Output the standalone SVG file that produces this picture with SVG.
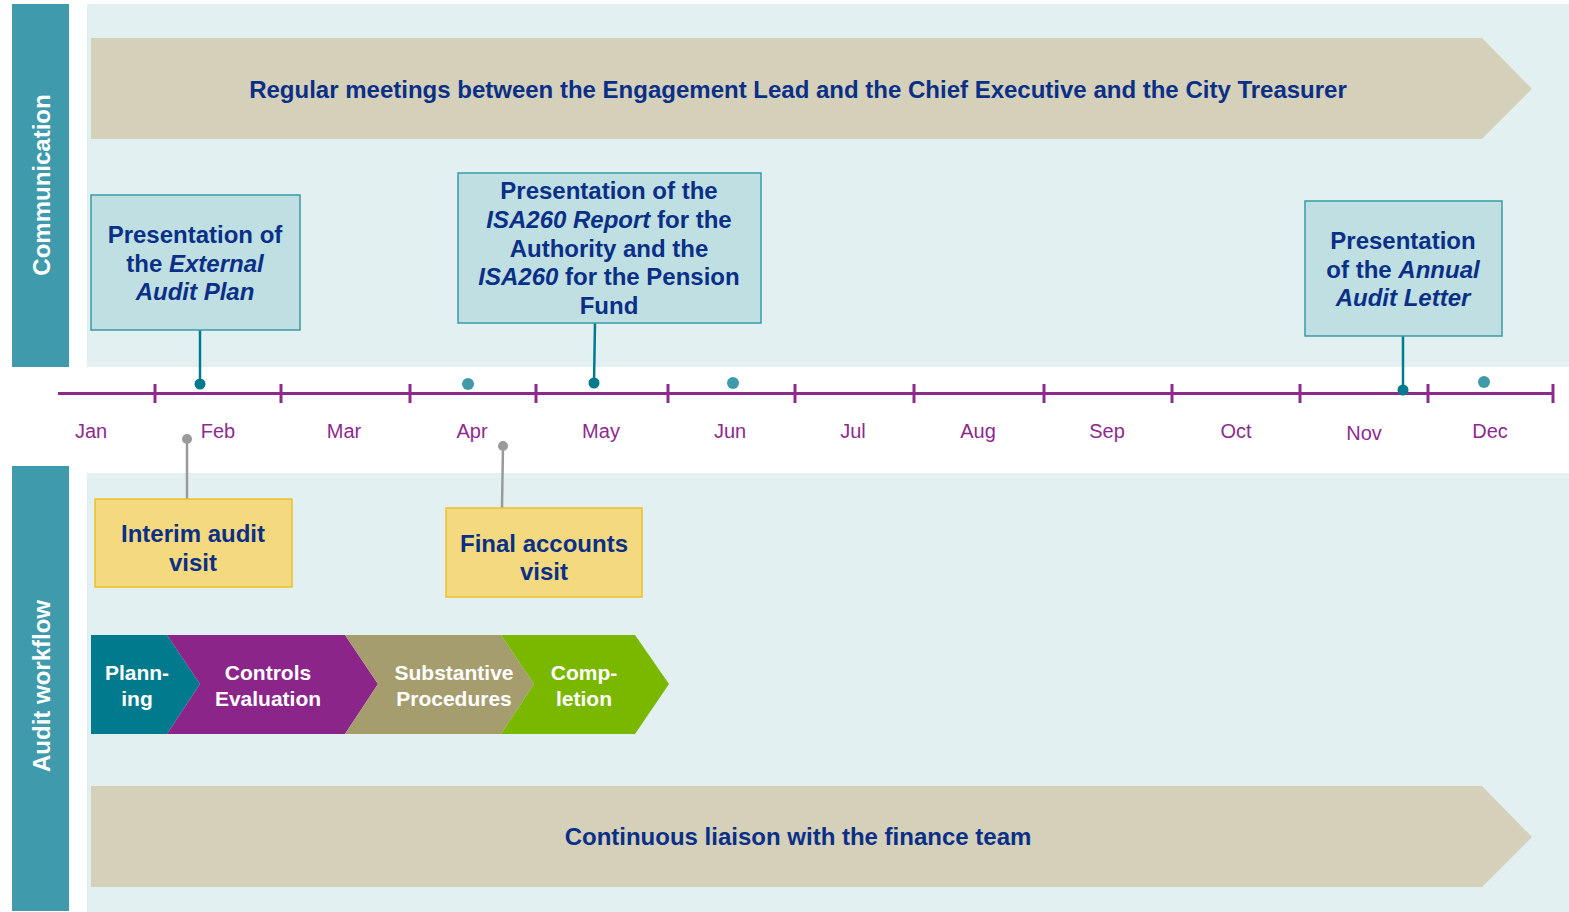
<svg xmlns="http://www.w3.org/2000/svg" width="1569" height="912" viewBox="0 0 1569 912">
  <style>
    .side { fill: #3F9BAB; }
    .panel { fill: #E2F0F2; }
    .side-label { font-family: "Liberation Sans", Arial, sans-serif; font-weight: bold; font-size: 24px; fill: #FFFFFF; text-anchor: middle; }
    .banner { fill: #D5D0B9; }
    .banner-text { font-family: "Liberation Sans", Arial, sans-serif; font-weight: bold; font-size: 24px; fill: #0A2F87; text-anchor: middle; }
    .comm-box { fill: #BFDFE3; stroke: #3A9AA8; stroke-width: 1.5; }
    .box-text { font-family: "Liberation Sans", Arial, sans-serif; font-weight: bold; font-size: 24px; fill: #0A2F87; text-anchor: middle; }
    .box-text .it { font-style: italic; }
    .visit-box { fill: #F5D97E; stroke: #EDBF2A; stroke-width: 1.5; }
    .stage-text { font-family: "Liberation Sans", Arial, sans-serif; font-weight: bold; font-size: 21px; fill: #FFFFFF; text-anchor: middle; }
    .axis { stroke: #8E2A8E; stroke-width: 3; fill: none; }
    .month { font-family: "Liberation Sans", Arial, sans-serif; font-size: 20px; fill: #8E2A8E; text-anchor: middle; }
    .lead { stroke: #007A8C; stroke-width: 2.5; }
    .lead-dot { fill: #007A8C; }
    .spare-dot { fill: #3F9BAB; }
    .pin { stroke: #9A9A9A; stroke-width: 2.5; }
    .pin-dot { fill: #9A9A9A; }
  </style>

  <!-- background lanes -->
  <g id="lanes">
    <rect class="panel" x="87" y="4" width="1482" height="363"/>
    <rect class="panel" x="87" y="473" width="1482" height="439"/>
    <rect class="side" x="12" y="4" width="57" height="363"/>
    <rect class="side" x="12" y="466" width="57" height="445"/>
    <text class="side-label" transform="translate(50,185) rotate(-90)">Communication</text>
    <text class="side-label" transform="translate(50,686) rotate(-90)">Audit workflow</text>
  </g>

  <!-- month axis -->
  <g id="timeline">
    <line class="axis" x1="58" y1="393.5" x2="1553" y2="393.5"/>
    <path class="axis" d="M155 384V403 M281 384V403 M410 384V403 M536 384V403 M668 384V403 M795 384V403 M914 384V403 M1044 384V403 M1172 384V403 M1300 384V403 M1428 384V403 M1553 384V403"/>
    <text class="month" x="91" y="438">Jan</text>
    <text class="month" x="218" y="438">Feb</text>
    <text class="month" x="344" y="438">Mar</text>
    <text class="month" x="472" y="438">Apr</text>
    <text class="month" x="601" y="438">May</text>
    <text class="month" x="730" y="438">Jun</text>
    <text class="month" x="853" y="438">Jul</text>
    <text class="month" x="978" y="438">Aug</text>
    <text class="month" x="1107" y="438">Sep</text>
    <text class="month" x="1236" y="438">Oct</text>
    <text class="month" x="1364" y="440">Nov</text>
    <text class="month" x="1490" y="438">Dec</text>
    <circle class="spare-dot" cx="468" cy="384" r="6"/>
    <circle class="spare-dot" cx="733" cy="383" r="6"/>
    <circle class="spare-dot" cx="1484" cy="382" r="6"/>
  </g>

  <!-- connectors from boxes to the axis -->
  <g id="connectors">
    <line class="lead" x1="200" y1="330" x2="200" y2="384"/>
    <circle class="lead-dot" cx="200" cy="384" r="5.5"/>
    <line class="lead" x1="595" y1="323" x2="594" y2="383"/>
    <circle class="lead-dot" cx="594" cy="383" r="5.5"/>
    <line class="lead" x1="1403" y1="336" x2="1403" y2="390"/>
    <circle class="lead-dot" cx="1403" cy="390" r="5.5"/>
    <line class="pin" x1="187" y1="439" x2="187" y2="499"/>
    <circle class="pin-dot" cx="187" cy="439" r="5"/>
    <line class="pin" x1="503" y1="446" x2="502" y2="508"/>
    <circle class="pin-dot" cx="503" cy="446" r="5"/>
  </g>

  <!-- regular meetings banner -->
  <g id="meetings">
    <polygon class="banner" points="91,38 1482,38 1532,89 1482,139 91,139"/>
    <text class="banner-text" x="798" y="98">Regular meetings between the Engagement Lead and the Chief Executive and the City Treasurer</text>
  </g>

  <g id="audit-plan">
    <rect class="comm-box" x="91" y="195" width="209" height="135"/>
    <text class="box-text"><tspan x="195" y="243">Presentation of</tspan><tspan x="195" y="271.5">the <tspan class="it">External</tspan></tspan><tspan x="195" y="300" class="it">Audit Plan</tspan></text>
  </g>

  <g id="isa260">
    <rect class="comm-box" x="458" y="173" width="303" height="150"/>
    <text class="box-text"><tspan x="609" y="199">Presentation of the</tspan><tspan x="609" y="228"><tspan class="it">ISA260 Report</tspan> for the</tspan><tspan x="609" y="256.5">Authority and the</tspan><tspan x="609" y="285"><tspan class="it">ISA260</tspan> for the Pension</tspan><tspan x="609" y="314">Fund</tspan></text>
  </g>

  <g id="annual-letter">
    <rect class="comm-box" x="1305" y="201" width="197" height="135"/>
    <text class="box-text"><tspan x="1403" y="249">Presentation</tspan><tspan x="1403" y="277.5">of the <tspan class="it">Annual</tspan></tspan><tspan x="1403" y="305.5" class="it">Audit Letter</tspan></text>
  </g>

  <g id="interim-visit">
    <rect class="visit-box" x="95" y="499" width="197" height="88"/>
    <text class="box-text"><tspan x="193" y="542">Interim audit</tspan><tspan x="193" y="571">visit</tspan></text>
  </g>

  <g id="final-visit">
    <rect class="visit-box" x="446" y="508" width="196" height="89"/>
    <text class="box-text"><tspan x="544" y="551.5">Final accounts</tspan><tspan x="544" y="580">visit</tspan></text>
  </g>

  <!-- audit stages -->
  <g id="stage-planning">
    <polygon fill="#007A8C" points="91,635 167,635 200,684 167,734 91,734"/>
    <text class="stage-text"><tspan x="137" y="680">Plann-</tspan><tspan x="137" y="706">ing</tspan></text>
  </g>
  <g id="stage-controls">
    <polygon fill="#8C2589" points="167,635 345,635 378,684 345,734 167,734 200,684"/>
    <text class="stage-text"><tspan x="268" y="680">Controls</tspan><tspan x="268" y="706">Evaluation</tspan></text>
  </g>
  <g id="stage-substantive">
    <polygon fill="#A69D6E" points="345,635 501,635 534,684 501,734 345,734 378,684"/>
    <text class="stage-text"><tspan x="454" y="680">Substantive</tspan><tspan x="454" y="706">Procedures</tspan></text>
  </g>
  <g id="stage-completion">
    <polygon fill="#7AB800" points="501,635 635,635 669,684 635,734 501,734 534,684"/>
    <text class="stage-text"><tspan x="584" y="680">Comp-</tspan><tspan x="584" y="706">letion</tspan></text>
  </g>

  <!-- continuous liaison banner -->
  <g id="liaison">
    <polygon class="banner" points="91,786 1482,786 1532,837 1482,887 91,887"/>
    <text class="banner-text" x="798" y="845">Continuous liaison with the finance team</text>
  </g>
</svg>
